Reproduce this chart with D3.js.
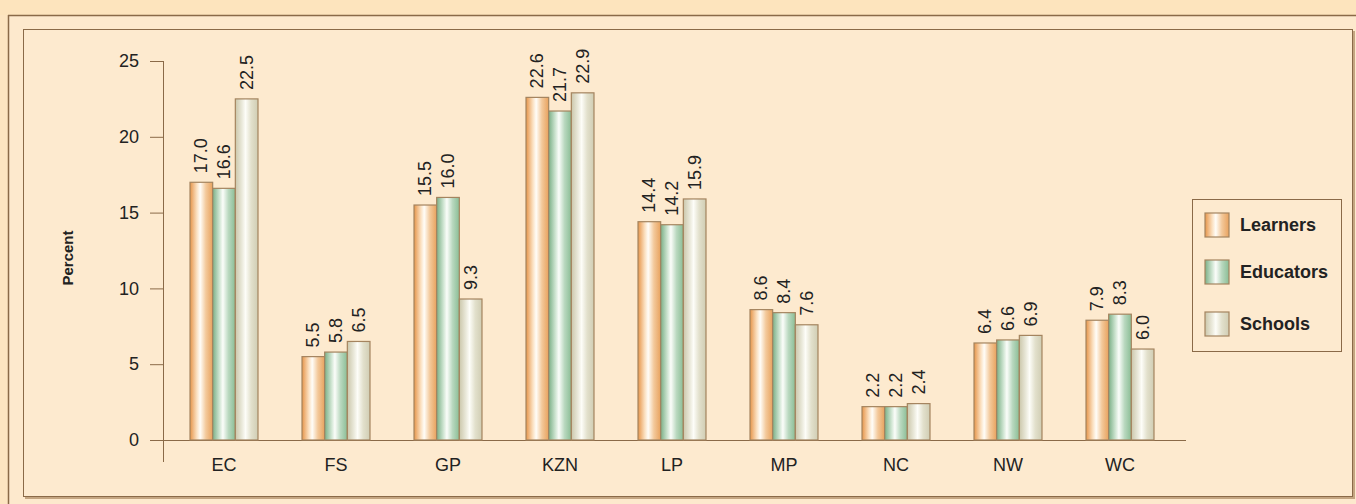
<!DOCTYPE html>
<html>
<head>
<meta charset="utf-8">
<script src="https://cdn.jsdelivr.net/npm/d3@7"></script>
<style>
  html, body { margin: 0; padding: 0; background: #fde5c1; }
  svg { display: block; font-family: 'Liberation Sans', Arial, sans-serif; }
</style>
</head>
<body>
<svg width="1356" height="504"></svg>
<script>
const categories = ['EC', 'FS', 'GP', 'KZN', 'LP', 'MP', 'NC', 'NW', 'WC'];
const seriesNames = ['Learners', 'Educators', 'Schools'];
const learners = [17.0, 5.5, 15.5, 22.6, 14.4, 8.6, 2.2, 6.4, 7.9];
const educators = [16.6, 5.8, 16.0, 21.7, 14.2, 8.4, 2.2, 6.6, 8.3];
const schools = [22.5, 6.5, 9.3, 22.9, 15.9, 7.6, 2.4, 6.9, 6.0];
const yTicks = [0, 5, 10, 15, 20, 25];

(function() {
  let svg = d3.select('svg');
  let seriesValues = [learners, educators, schools];

  // gradients for bars
  let defs = svg.append('defs');
  let grads = [
    { id: 'g0', stops: ['#e6954a', '#fbe0c0', '#fffdf8', '#f3c99b', '#e8a25e'] },
    { id: 'g1', stops: ['#7aaf86', '#cfe5d2', '#fbfdfa', '#b9d8bf', '#8abd95'] },
    { id: 'g2', stops: ['#cbc7ab', '#ebeadc', '#fdfdf8', '#e2e0cc', '#d0cdb3'] }
  ];
  grads.forEach(function(g) {
    let lg = defs.append('linearGradient').attr('id', g.id)
      .attr('x1', '0%').attr('x2', '100%').attr('y1', '0%').attr('y2', '0%');
    let offs = [0, 0.3, 0.45, 0.7, 1];
    g.stops.forEach(function(c, i) {
      lg.append('stop').attr('offset', offs[i]).attr('stop-color', c);
    });
  });

  // frame
  svg.append('rect').attr('x', 0).attr('y', 0).attr('width', 1356).attr('height', 15)
    .attr('fill', '#fde4bd');
  svg.append('rect').attr('x', 8).attr('y', 15).attr('width', 1348).attr('height', 489)
    .attr('fill', '#fde9cd');
  svg.append('line').attr('x1', 8).attr('x2', 1356).attr('y1', 15.5).attr('y2', 15.5)
    .attr('stroke', '#8a6a48').attr('stroke-width', 1.5);
  svg.append('line').attr('x1', 8.5).attr('x2', 8.5).attr('y1', 15).attr('y2', 504)
    .attr('stroke', '#8a6a48').attr('stroke-width', 1.5);

  // inner panel with shadow
  svg.append('rect').attr('x', 25).attr('y', 31).attr('width', 1330).attr('height', 468)
    .attr('fill', '#c4a581');
  svg.append('rect').attr('x', 23.5).attr('y', 29.5).attr('width', 1329).attr('height', 467)
    .attr('fill', '#fdeacf').attr('stroke', '#8a6a48').attr('stroke-width', 1);

  let x0 = d3.scaleBand().domain(categories).range([168, 1176])
    .paddingInner(0.393).paddingOuter(0.1965);
  let x1 = d3.scaleBand().domain(seriesNames).range([0, x0.bandwidth()]);
  let y = d3.scaleLinear().domain([0, 25]).range([440, 61]);

  // y axis
  let yAxis = svg.append('g')
    .attr('transform', 'translate(163,0)')
    .call(d3.axisLeft(y).tickValues(yTicks).tickSize(13).tickPadding(11).tickFormat(d3.format('d')));
  yAxis.select('.domain').remove();
  yAxis.selectAll('line').attr('stroke', '#8a6a48');
  yAxis.selectAll('text').attr('font-size', 18).attr('fill', '#222')
    .attr('font-family', "'Liberation Sans', Arial, sans-serif");
  svg.append('line').attr('x1', 163.5).attr('x2', 163.5).attr('y1', y(25)).attr('y2', y(0) + 22)
    .attr('stroke', '#8a6a48');
  svg.append('line').attr('x1', 150).attr('x2', 1186).attr('y1', y(0) + 0.5).attr('y2', y(0) + 0.5)
    .attr('stroke', '#8a6a48');

  svg.append('text')
    .attr('transform', 'translate(67,258) rotate(-90)')
    .attr('text-anchor', 'middle').attr('dominant-baseline', 'central')
    .attr('font-size', 15).attr('font-weight', 'bold').attr('fill', '#222')
    .text('Percent');

  // category labels
  svg.append('g').selectAll('text').data(categories).enter().append('text')
    .attr('x', function(d) { return x0(d) + x0.bandwidth() / 2; })
    .attr('y', 465)
    .attr('text-anchor', 'middle').attr('dominant-baseline', 'central')
    .attr('font-size', 18).attr('fill', '#222')
    .text(function(d) { return d; });

  // bars
  let groups = svg.append('g').selectAll('g').data(categories).enter().append('g')
    .attr('transform', function(d) { return 'translate(' + x0(d) + ',0)'; });

  let fmt = d3.format('.1f');
  groups.each(function(cat, ci) {
    let g = d3.select(this);
    let data = seriesNames.map(function(s, si) {
      return { s: s, si: si, v: seriesValues[si][ci] };
    });
    g.selectAll('rect').data(data).enter().append('rect')
      .attr('x', function(d) { return x1(d.s); })
      .attr('y', function(d) { return y(d.v); })
      .attr('width', x1.bandwidth())
      .attr('height', function(d) { return y(0) - y(d.v); })
      .attr('fill', function(d) { return 'url(#g' + d.si + ')'; })
      .attr('stroke', '#a4845f').attr('stroke-width', 1.2);
    g.selectAll('text').data(data).enter().append('text')
      .attr('transform', function(d) {
        return 'translate(' + (x1(d.s) + x1.bandwidth() / 2) + ',' + (y(d.v) - 9) + ') rotate(-90)';
      })
      .attr('dominant-baseline', 'central')
      .attr('font-size', 18).attr('fill', '#222')
      .text(function(d) { return fmt(d.v); });
  });

  // legend
  let legend = svg.append('g');
  legend.append('rect').attr('x', 1192.5).attr('y', 199.5).attr('width', 149).attr('height', 152)
    .attr('fill', 'none').attr('stroke', '#8a6a48');
  let li = legend.selectAll('g').data(seriesNames).enter().append('g')
    .attr('transform', function(d, i) { return 'translate(1205,' + [213, 260, 312][i] + ')'; });
  li.append('rect').attr('width', 24).attr('height', 24)
    .attr('fill', function(d, i) { return 'url(#g' + i + ')'; })
    .attr('stroke', '#a4845f').attr('stroke-width', 1.2);
  li.append('text').attr('x', 35).attr('y', 12).attr('dominant-baseline', 'central')
    .attr('font-size', 18).attr('font-weight', 'bold').attr('fill', '#222')
    .text(function(d) { return d; });
})();
</script>
</body>
</html>
